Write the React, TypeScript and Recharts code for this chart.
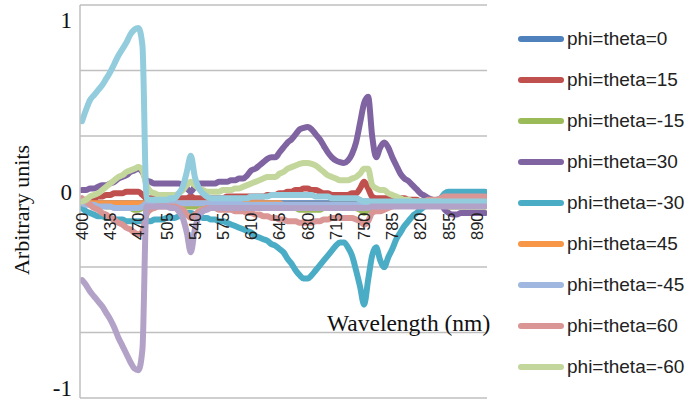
import React from 'react';
import { LineChart, Line, XAxis, YAxis, CartesianGrid, ReferenceLine } from 'recharts';

const WAVELENGTHS = [
  400, 405, 410, 415, 420, 425, 430, 435, 440, 445,
  450, 455, 460, 465, 470, 475, 480, 485, 490, 495,
  500, 505, 510, 515, 520, 525, 530, 535, 540, 545,
  550, 555, 560, 565, 570, 575, 580, 585, 590, 595,
  600, 605, 610, 615, 620, 625, 630, 635, 640, 645,
  650, 655, 660, 665, 670, 675, 680, 685, 690, 695,
  700, 705, 710, 715, 720, 725, 730, 735, 740, 745,
  750, 755, 760, 765, 770, 775, 780, 785, 790, 795,
  800, 805, 810, 815, 820, 825, 830, 835, 840, 845,
  850, 855, 860, 865, 870, 875, 880, 885, 890, 895,
  900,
];

const X_TICKS = [400, 435, 470, 505, 540, 575, 610, 645, 680, 715, 750, 785, 820, 855, 890];
const Y_LABELS = [-1, 0, 1];
const Y_GRID = [-1.2, -0.8, -0.4, 0, 0.4, 0.8, 1.2];

const S_0 = [
  0, 0, 0, 0, -0.01, -0.01, -0.01, -0.01, -0.01, -0.01,
  -0.01, -0.01, -0.01, -0.01, -0.01, -0.01, 0, 0, 0, 0,
  0, 0, 0, 0, 0, 0, 0, 0, 0, 0,
  0, 0, 0, 0, 0, 0, 0, 0, 0, 0,
  -0.01, -0.01, -0.01, -0.01, -0.01, -0.01, -0.01, -0.01, -0.01, -0.01,
  -0.01, -0.01, -0.01, -0.01, -0.01, -0.01, -0.01, -0.01, -0.01, -0.01,
  -0.01, -0.01, -0.01, -0.01, -0.01, -0.01, -0.01, -0.01, -0.01, -0.01,
  0, 0, 0, 0, 0, 0, 0, 0, 0, 0,
  0, 0, 0, 0, 0, 0, 0, 0, 0, 0,
  0, 0, 0, 0, 0, 0, 0, 0, 0, 0,
  0,
];

const S_15 = [
  0, 0.01, 0.02, 0.02, 0.03, 0.03, 0.04, 0.04, 0.05, 0.05,
  0.05, 0.06, 0.06, 0.06, 0.06, 0.04, 0.02, 0.02, 0.02, 0.02,
  0.02, 0.02, 0.02, 0.02, 0.02, 0.02, 0.02, 0.03, 0.02, 0.02,
  0.02, 0.02, 0.02, 0.02, 0.02, 0.02, 0.03, 0.03, 0.03, 0.03,
  0.03, 0.03, 0.03, 0.03, 0.03, 0.03, 0.04, 0.04, 0.04, 0.05,
  0.05, 0.06, 0.06, 0.07, 0.07, 0.08, 0.08, 0.07, 0.07, 0.06,
  0.05, 0.05, 0.04, 0.04, 0.04, 0.04, 0.04, 0.05, 0.05, 0.08,
  0.12, 0.08, 0.03, 0.02, 0.02, 0.02, 0.02, 0.02, 0.02, 0.02,
  0.02, 0.01, 0.01, 0.01, 0, 0, 0, 0, 0, 0,
  0, 0, 0, 0, 0, 0, 0, 0, 0, 0,
  0,
];

const S_M15 = [
  0, -0.01, -0.01, -0.02, -0.02, -0.02, -0.03, -0.03, -0.03, -0.04,
  -0.04, -0.04, -0.04, -0.05, -0.05, -0.04, -0.02, -0.02, -0.02, -0.02,
  -0.02, -0.02, -0.02, -0.02, -0.02, -0.02, -0.03, -0.03, -0.03, -0.02,
  -0.02, -0.02, -0.02, -0.02, -0.02, -0.02, -0.02, -0.02, -0.02, -0.02,
  -0.02, -0.02, -0.02, -0.02, -0.03, -0.03, -0.03, -0.03, -0.03, -0.03,
  -0.04, -0.04, -0.04, -0.04, -0.05, -0.05, -0.05, -0.05, -0.05, -0.05,
  -0.04, -0.04, -0.03, -0.03, -0.03, -0.03, -0.03, -0.03, -0.04, -0.05,
  -0.07, -0.05, -0.03, -0.02, -0.02, -0.02, -0.02, -0.02, -0.02, -0.02,
  -0.01, -0.01, -0.01, -0.01, -0.01, -0.01, -0.01, -0.01, -0.01, -0.01,
  -0.03, -0.03, -0.03, -0.03, -0.03, -0.03, -0.03, -0.03, -0.03, -0.03,
  -0.03,
];

const S_30 = [
  0.07, 0.07, 0.08, 0.08, 0.09, 0.1, 0.1, 0.11, 0.12, 0.14,
  0.15, 0.16, 0.18, 0.19, 0.2, 0.18, 0.13, 0.12, 0.11, 0.11,
  0.11, 0.11, 0.11, 0.11, 0.11, 0.1, 0.08, 0.06, 0.09, 0.11,
  0.11, 0.11, 0.11, 0.11, 0.12, 0.12, 0.12, 0.13, 0.13, 0.14,
  0.14, 0.16, 0.19, 0.2, 0.22, 0.24, 0.26, 0.27, 0.27, 0.3,
  0.33, 0.36, 0.38, 0.41, 0.44, 0.45, 0.455, 0.44, 0.41, 0.38,
  0.34, 0.3, 0.27, 0.25, 0.24, 0.235, 0.25, 0.29, 0.36, 0.48,
  0.6, 0.64, 0.4, 0.27, 0.33, 0.36, 0.33, 0.27, 0.22, 0.17,
  0.14, 0.125, 0.1, 0.075, 0.05, 0.035, 0.02, 0.01, 0, -0.01,
  -0.05, -0.07, -0.08, -0.08, -0.07, -0.07, -0.07, -0.07, -0.07, -0.07,
  -0.07,
];

const S_M30 = [
  -0.04, -0.06, -0.07, -0.08, -0.09, -0.09, -0.1, -0.1, -0.11, -0.11,
  -0.11, -0.12, -0.12, -0.12, -0.12, -0.12, -0.12, -0.12, -0.11, -0.11,
  -0.11, -0.1, -0.1, -0.1, -0.09, -0.08, -0.07, -0.07, -0.08, -0.09,
  -0.1, -0.1, -0.11, -0.11, -0.12, -0.12, -0.13, -0.14, -0.15, -0.16,
  -0.17, -0.18, -0.19, -0.21, -0.22, -0.23, -0.24, -0.26, -0.27, -0.29,
  -0.31, -0.35, -0.38, -0.42, -0.45, -0.47, -0.47, -0.45, -0.42, -0.39,
  -0.36, -0.33, -0.3, -0.27, -0.25, -0.25, -0.28, -0.33, -0.42, -0.52,
  -0.63, -0.48, -0.33, -0.28, -0.36, -0.4, -0.34, -0.29, -0.23, -0.19,
  -0.15, -0.12, -0.09, -0.07, -0.05, -0.03, -0.01, 0, 0.01, 0.02,
  0.05, 0.06, 0.06, 0.06, 0.06, 0.06, 0.06, 0.06, 0.06, 0.06,
  0.06,
];

const S_45 = [
  -0.01, -0.01, -0.01, -0.01, -0.01, -0.01, -0.01, -0.01, -0.01, -0.01,
  -0.01, -0.01, -0.01, -0.01, -0.01, -0.01, -0.01, -0.01, -0.01, -0.01,
  -0.01, -0.01, -0.01, -0.01, -0.01, -0.01, -0.01, -0.01, -0.01, -0.01,
  -0.01, -0.01, -0.01, -0.01, -0.01, -0.01, -0.01, -0.01, -0.01, -0.01,
  -0.01, -0.01, -0.01, -0.01, -0.01, -0.01, -0.01, -0.01, -0.01, -0.01,
  -0.02, -0.02, -0.02, -0.02, -0.02, -0.02, -0.02, -0.02, -0.02, -0.02,
  -0.02, -0.02, -0.02, -0.02, -0.02, -0.02, -0.02, -0.02, -0.02, -0.02,
  -0.01, -0.01, -0.01, -0.01, -0.01, -0.01, -0.01, -0.01, -0.01, -0.01,
  -0.01, -0.01, -0.01, -0.01, -0.01, -0.01, -0.01, -0.01, -0.01, -0.01,
  -0.01, -0.01, -0.01, -0.01, -0.01, -0.01, -0.01, -0.01, -0.01, -0.01,
  -0.01,
];

const S_M45 = [
  -0.01, -0.02, -0.02, -0.02, -0.03, -0.03, -0.03, -0.03, -0.04, -0.04,
  -0.04, -0.04, -0.04, -0.04, -0.04, -0.03, -0.01, -0.01, -0.01, -0.01,
  -0.01, -0.01, -0.01, -0.01, -0.01, -0.01, -0.01, -0.01, -0.01, -0.01,
  -0.01, -0.01, -0.01, -0.01, -0.01, -0.01, -0.01, -0.01, -0.01, -0.01,
  -0.02, -0.02, -0.02, -0.02, -0.02, -0.02, -0.02, -0.02, -0.02, -0.02,
  -0.02, -0.02, -0.02, -0.02, -0.02, -0.02, -0.02, -0.02, -0.02, -0.02,
  -0.02, -0.02, -0.02, -0.02, -0.02, -0.02, -0.02, -0.02, -0.02, -0.02,
  -0.01, -0.01, -0.01, -0.01, -0.01, -0.01, -0.01, -0.01, -0.01, -0.01,
  -0.01, -0.01, -0.01, -0.01, -0.01, -0.01, -0.01, -0.01, -0.01, -0.01,
  -0.01, -0.01, -0.01, -0.01, -0.01, -0.01, -0.01, -0.01, -0.01, -0.01,
  -0.01,
];

const S_60 = [
  0.02, 0, -0.02, -0.04, -0.05, -0.07, -0.08, -0.1, -0.11, -0.13,
  -0.14, -0.16, -0.17, -0.19, -0.2, -0.18, -0.08, -0.05, -0.04, -0.03,
  -0.03, -0.03, -0.03, -0.03, -0.04, -0.05, -0.08, -0.1, -0.08, -0.06,
  -0.05, -0.04, -0.04, -0.04, -0.05, -0.05, -0.05, -0.05, -0.06, -0.06,
  -0.06, -0.07, -0.07, -0.08, -0.08, -0.09, -0.09, -0.1, -0.1, -0.11,
  -0.11, -0.12, -0.12, -0.12, -0.13, -0.13, -0.13, -0.13, -0.12, -0.12,
  -0.11, -0.11, -0.1, -0.1, -0.1, -0.1, -0.1, -0.1, -0.11, -0.12,
  -0.14, -0.12, -0.07, -0.06, -0.06, -0.05, -0.04, -0.03, -0.02, -0.02,
  -0.01, -0.01, 0, 0, 0, 0, 0.01, 0.01, 0.01, 0.02,
  0.03, 0.03, 0.03, 0.03, 0.03, 0.03, 0.03, 0.03, 0.03, 0.03,
  0.03,
];

const S_M60 = [
  0, 0.01, 0.03, 0.04, 0.05, 0.07, 0.09, 0.11, 0.13, 0.15,
  0.16, 0.18, 0.19, 0.2, 0.21, 0.19, 0.1, 0.06, 0.05, 0.04,
  0.04, 0.04, 0.04, 0.04, 0.05, 0.07, 0.1, 0.12, 0.1, 0.08,
  0.07, 0.06, 0.06, 0.06, 0.06, 0.07, 0.07, 0.07, 0.08, 0.08,
  0.09, 0.1, 0.11, 0.12, 0.13, 0.14, 0.15, 0.15, 0.15, 0.17,
  0.18, 0.2, 0.21, 0.22, 0.23, 0.235, 0.235, 0.23, 0.22, 0.2,
  0.18, 0.16, 0.15, 0.14, 0.13, 0.13, 0.13, 0.14, 0.15, 0.17,
  0.2, 0.2, 0.1, 0.08, 0.07, 0.07, 0.05, 0.04, 0.03, 0.02,
  0.01, 0.01, 0, 0, 0, 0, 0, 0, 0, 0,
  -0.02, -0.03, -0.03, -0.03, -0.03, -0.03, -0.03, -0.03, -0.03, -0.03,
  -0.03,
];

const S_75 = [
  0.49, 0.56, 0.62, 0.65, 0.68, 0.71, 0.75, 0.79, 0.84, 0.89,
  0.93, 0.97, 1.02, 1.05, 1.06, 0.95, 0.02, 0.01, 0.01, 0.01,
  0.01, 0.01, 0.02, 0.02, 0.05, 0.09, 0.18, 0.28, 0.15, 0.08,
  0.05, 0.03, 0.02, 0.02, 0.02, 0.02, 0.02, 0.02, 0.02, 0.02,
  0.02, 0.02, 0.03, 0.03, 0.03, 0.03, 0.03, 0.04, 0.04, 0.04,
  0.04, 0.04, 0.04, 0.04, 0.04, 0.04, 0.04, 0.04, 0.03, 0.03,
  0.03, 0.03, 0.02, 0.02, 0.02, 0.02, 0.02, 0.02, 0.02, 0.01,
  0, 0, 0, 0, 0, 0, 0, 0, 0, 0,
  0, 0, 0, 0, 0, 0, 0, 0, 0, 0,
  0, 0, 0, 0, 0, 0, 0, 0, 0, 0,
  0,
];

const S_M75 = [
  -0.48, -0.51, -0.55, -0.58, -0.61, -0.64, -0.68, -0.72, -0.77, -0.83,
  -0.88, -0.93, -0.98, -1.02, -1.03, -0.9, -0.03, -0.03, -0.03, -0.03,
  -0.03, -0.03, -0.04, -0.04, -0.06, -0.1, -0.19, -0.31, -0.17, -0.09,
  -0.06, -0.05, -0.04, -0.04, -0.04, -0.04, -0.04, -0.04, -0.04, -0.04,
  -0.04, -0.04, -0.04, -0.04, -0.04, -0.04, -0.04, -0.04, -0.04, -0.04,
  -0.04, -0.04, -0.04, -0.04, -0.04, -0.04, -0.04, -0.04, -0.04, -0.04,
  -0.04, -0.04, -0.04, -0.04, -0.04, -0.04, -0.04, -0.04, -0.04, -0.04,
  -0.04, -0.04, -0.03, -0.03, -0.03, -0.03, -0.03, -0.03, -0.03, -0.03,
  -0.03, -0.03, -0.03, -0.03, -0.03, -0.03, -0.03, -0.03, -0.03, -0.03,
  -0.03, -0.03, -0.03, -0.03, -0.03, -0.03, -0.03, -0.03, -0.03, -0.03,
  -0.03,
];

const SERIES = [
  { key: 's0', name: 'phi=theta=0', color: '#4F81BD', values: S_0, legend: true },
  { key: 's15', name: 'phi=theta=15', color: '#C0504D', values: S_15, legend: true },
  { key: 'sm15', name: 'phi=theta=-15', color: '#9BBB59', values: S_M15, legend: true },
  { key: 's30', name: 'phi=theta=30', color: '#8064A2', values: S_30, legend: true },
  { key: 'sm30', name: 'phi=theta=-30', color: '#4BACC6', values: S_M30, legend: true },
  { key: 's45', name: 'phi=theta=45', color: '#F79646', values: S_45, legend: true },
  { key: 'sm45', name: 'phi=theta=-45', color: '#A0B8E0', values: S_M45, legend: true },
  { key: 's60', name: 'phi=theta=60', color: '#D99694', values: S_60, legend: true },
  { key: 'sm60', name: 'phi=theta=-60', color: '#C3D69B', values: S_M60, legend: true },
  { key: 's75', name: 'phi=theta=75', color: '#93CDDD', values: S_75, legend: false },
  { key: 'sm75', name: 'phi=theta=-75', color: '#B3A2C7', values: S_M75, legend: false },
];

const DATA = WAVELENGTHS.map((nm, i) => {
  const row: Record<string, number> = { nm };
  SERIES.forEach((s) => {
    row[s.key] = s.values[i];
  });
  return row;
});

const W = 686;
const H = 402;
const MARGIN = { top: 5, right: 199, bottom: 3, left: 0 };
const XAXIS_H = 1;
const YAXIS_W = 80;
const PLOT_H = H - MARGIN.top - MARGIN.bottom - XAXIS_H;
const ZERO_Y = MARGIN.top + PLOT_H / 2;
const GRID = '#BFBFBF';
const SERIF = '"Liberation Serif", "Times New Roman", serif';
const SANS = '"Liberation Sans", Arial, sans-serif';

const Y_LABEL_SHIFT: Record<string, number> = { '1': -18, '0': -10, '-1': 23 };

const YTick = (props: any) => {
  const { y, payload } = props;
  const v = String(payload.value);
  return (
    <text x={YAXIS_W - 8} y={y + (Y_LABEL_SHIFT[v] || 0)} dy="0.35em" textAnchor="end"
      fontFamily={SERIF} fontSize={23} fill="#111">{v}</text>
  );
};

const XTick = (props: any) => {
  const { x, payload } = props;
  return (
    <g transform={`translate(${x},${ZERO_Y + 11})`}>
      <text transform="rotate(-90)" textAnchor="end" dy="0.36em" fontFamily={SANS} fontSize={16.5} fill="#222">
        {payload.value}
      </text>
    </g>
  );
};

const LegendBox = () => (
  <div style={{ position: 'absolute', left: 518, top: 18, display: 'flex', flexDirection: 'column' }}>
    {SERIES.filter((s) => s.legend).map((s) => (
      <div key={s.key} style={{ display: 'flex', alignItems: 'center', height: 41 }}>
        <div style={{ width: 46, height: 6, borderRadius: 3, background: s.color }} />
        <span style={{ marginLeft: 3, fontFamily: SANS, fontSize: 19, color: '#222', whiteSpace: 'nowrap' }}>{s.name}</span>
      </div>
    ))}
  </div>
);

export default function App() {
  return (
    <div style={{ position: 'absolute', left: 0, top: 0, width: W, height: H, background: '#fff' }}>
      <LineChart width={W} height={H} data={DATA} margin={MARGIN}>
        <CartesianGrid vertical={false} horizontalValues={Y_GRID} stroke={GRID} strokeWidth={1.5} strokeDasharray="" />
        <XAxis dataKey="nm" type="number" domain={[397.5, 902.5]} ticks={X_TICKS} interval={0}
          axisLine={false} tickLine={false} height={XAXIS_H} tick={<XTick />} allowDataOverflow />
        <YAxis type="number" domain={[-1.2, 1.2]} ticks={Y_LABELS} width={YAXIS_W} interval={0}
          axisLine={{ stroke: GRID, strokeWidth: 1.5 }} tickLine={false} tick={<YTick />} allowDataOverflow />
        <ReferenceLine y={0} stroke={GRID} strokeWidth={1.5} />
        {SERIES.map((s) => (
          <Line key={s.key} dataKey={s.key} name={s.name} type="monotone" stroke={s.color}
            strokeWidth={6} dot={false} activeDot={false} isAnimationActive={false}
            strokeLinecap="round" strokeLinejoin="round" />
        ))}
      </LineChart>
      <LegendBox />
      <div style={{ position: 'absolute', left: 22, top: 210, transform: 'translate(-50%, -50%) rotate(-90deg)',
        fontFamily: SERIF, fontSize: 22, color: '#111', whiteSpace: 'nowrap' }}>Arbitrary units</div>
      <div style={{ position: 'absolute', left: 327, top: 310, fontFamily: SERIF, fontSize: 23.5, color: '#111',
        whiteSpace: 'nowrap', lineHeight: '26px' }}>Wavelength (nm)</div>
    </div>
  );
}
